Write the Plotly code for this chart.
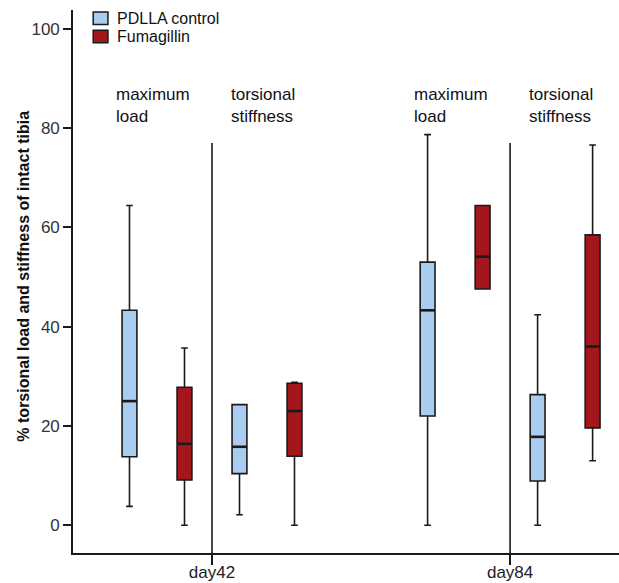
import plotly.graph_objects as go

# ---- data ----
days = ["day42", "day84"]
metrics = ["maximum<br>load", "torsional<br>stiffness"]
series = ["PDLLA control", "Fumagillin"]

# order: [day][metric][series]
lower = [[[3.8, 0.0], [2.1, 0.0]], [[0.0, 47.6], [0.0, 13.0]]]
q1 = [[[13.8, 9.1], [10.4, 13.9]], [[22.0, 47.6], [8.9, 19.6]]]
median = [[[25.0, 16.4], [15.8, 23.0]], [[43.3, 54.1], [17.8, 36.0]]]
q3 = [[[43.3, 27.8], [24.3, 28.6]], [[53.0, 64.4], [26.3, 58.5]]]
upper = [[[64.4, 35.7], [24.3, 28.8]], [[78.7, 64.4], [42.4, 76.6]]]

y_ticks = [0, 20, 40, 60, 80, 100]
y_title = "% torsional load and stiffness of intact tibia"

# ---- styles ----
fill_colors = ["#A9CDEF", "#A3161B"]
group_offset = [0.0, 5.42]
box_w = 0.27
font_family = "Liberation Sans, Arial, sans-serif"
dark = "#1a1a1a"

fig = go.Figure()
for d, day in enumerate(days):
    for m in range(len(metrics)):
        for s, name in enumerate(series):
            pos = group_offset[d] + 2 * m + s
            fig.add_trace(go.Box(
                x=[pos],
                q1=[q1[d][m][s]], median=[median[d][m][s]], q3=[q3[d][m][s]],
                lowerfence=[lower[d][m][s]], upperfence=[upper[d][m][s]],
                name=name, legendgroup=name, showlegend=False,
                fillcolor=fill_colors[s],
                line=dict(color=dark, width=1.6),
                width=box_w, whiskerwidth=0.45,
                boxpoints=False, hoverinfo="skip",
            ))
            # thicker median line
            fig.add_trace(go.Scatter(
                x=[pos - box_w / 2, pos + box_w / 2],
                y=[median[d][m][s]] * 2, mode="lines",
                line=dict(color=dark, width=2.6),
                showlegend=False, hoverinfo="skip",
            ))
        # metric label
        fig.add_annotation(
            x=group_offset[d] + 2 * m + 0.5 - 0.07, y=84.5,
            text=metrics[m], showarrow=False, align="left",
            xanchor="center", yanchor="middle",
            font=dict(size=17, color="#111", family=font_family),
        )
    # separator line at day tick
    sep = group_offset[d] + 1.5
    fig.add_shape(type="line", xref="x", yref="y", x0=sep, x1=sep,
                  y0=-5.6, y1=77.0, line=dict(color=dark, width=1.6))

# manual legend (paper coords)
leg_y = [0.985, 0.951]
for s, name in enumerate(series):
    fig.add_shape(type="rect", xref="paper", yref="paper",
                  x0=0.037, x1=0.064, y0=leg_y[s] - 0.0115, y1=leg_y[s] + 0.0115,
                  fillcolor=fill_colors[s], line=dict(color=dark, width=1.5))
    fig.add_annotation(xref="paper", yref="paper", x=0.0775, y=leg_y[s],
                       text=name, showarrow=False, xanchor="left", yanchor="middle",
                       font=dict(size=16, color="#111", family=font_family))

# y-axis title
fig.add_annotation(xref="paper", yref="paper", x=-0.0897, y=0.509,
                   text="<b>" + y_title + "</b>", textangle=-90, showarrow=False,
                   xanchor="center", yanchor="middle",
                   font=dict(size=16, color="#111", family=font_family))

fig.update_layout(
    width=619, height=583,
    margin=dict(l=73, r=0, t=10, b=30),
    paper_bgcolor="white", plot_bgcolor="white",
    font=dict(family=font_family, color="#222"),
    showlegend=False,
    boxmode="overlay",
)
fig.update_xaxes(
    range=[-1.027, 8.9], automargin=False,
    tickmode="array",
    tickvals=[group_offset[0] + 1.5, group_offset[1] + 1.5],
    ticktext=days,
    ticks="outside", ticklen=10, tickwidth=1.6, tickcolor=dark,
    ticklabelstandoff=-7,
    showline=True, linecolor=dark, linewidth=1.6,
    showgrid=False, zeroline=False,
    tickfont=dict(size=17, color="#222"),
)
fig.update_yaxes(
    range=[-5.6, 103.8], automargin=False,
    tickmode="array", tickvals=y_ticks,
    ticks="outside", ticklen=8, tickwidth=1.6, tickcolor=dark,
    showline=True, linecolor=dark, linewidth=1.6,
    showgrid=False, zeroline=False,
    tickfont=dict(size=17, color="#333"),
)

fig.write_html("out.html")
